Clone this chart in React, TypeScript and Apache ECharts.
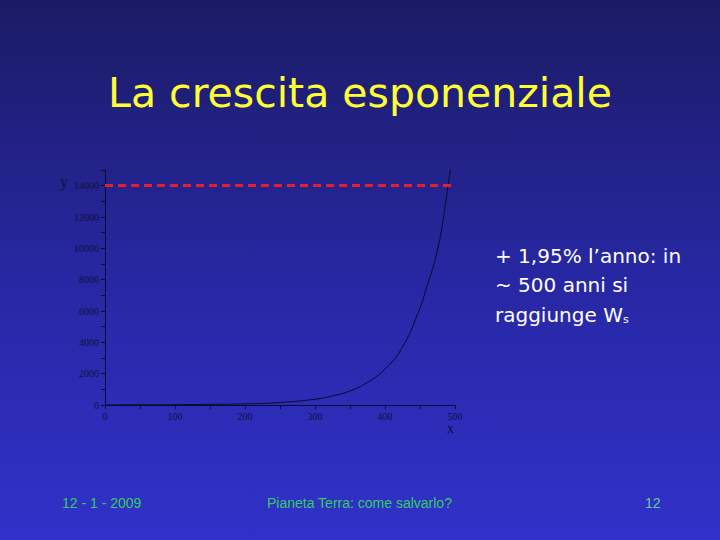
import React, { useEffect, useRef } from "react";
import * as echarts from "echarts";

const years = [0, 50, 100, 150, 200, 250, 300, 325, 350, 375, 400, 425, 450, 460, 470, 475, 480, 485, 490, 494];
const population = [5, 10, 20, 40, 70, 160, 370, 580, 900, 1450, 2300, 3700, 6200, 7600, 9000, 9900, 11000, 12400, 14000, 15200];
const limitValue = 14000;
const titleText = "La crescita esponenziale";
const noteLines = ["+ 1,95% l\u2019anno: in", "~ 500 anni si"];
const footerLeft = "12 - 1 - 2009";
const footerCenter = "Pianeta Terra: come salvarlo?";
const footerRight = "12";

export default function App() {
  const ref = useRef<HTMLDivElement>(null);
  useEffect(() => {
    if (!ref.current) return;
    const chart = echarts.init(ref.current, null, { renderer: "svg" });
    const serif = "Liberation Serif, DejaVu Serif, serif";
    const comic = "Comic Sans MS, DejaVu Sans, sans-serif";
    const narrow = "Liberation Sans Narrow, Liberation Sans, sans-serif";
    const axisColor = "#0c0c30";
    chart.setOption({
      animation: false,
      backgroundColor: {
        type: "linear",
        x: 0, y: 0, x2: 0, y2: 1,
        colorStops: [
          { offset: 0, color: "#1b1b64" },
          { offset: 0.5, color: "#2727a2" },
          { offset: 1, color: "#3131ca" },
        ],
      },
      grid: { left: 105, right: 265, top: 170, bottom: 135 },
      xAxis: {
        type: "value",
        min: 0,
        max: 500,
        interval: 100,
        axisLine: { show: true, lineStyle: { color: axisColor, width: 1 } },
        axisTick: { show: true, length: 4, lineStyle: { color: axisColor } },
        minorTick: { show: true, splitNumber: 2, length: 4, lineStyle: { color: axisColor } },
        splitLine: { show: false },
        axisLabel: { color: "#10103a", fontFamily: serif, fontSize: 10, margin: 6 },
      },
      yAxis: {
        type: "value",
        min: 0,
        max: 15000,
        interval: 2000,
        axisLine: { show: true, lineStyle: { color: axisColor, width: 1 } },
        axisTick: { show: true, length: 4, lineStyle: { color: axisColor } },
        minorTick: { show: true, splitNumber: 2, length: 4, lineStyle: { color: axisColor } },
        splitLine: { show: false },
        axisLabel: {
          color: "#10103a",
          fontFamily: serif,
          fontSize: 10,
          margin: 6,
          showMaxLabel: false,
          formatter: (v: number) => String(v),
        },
      },
      series: [
        {
          type: "line",
          data: years.map((x, i) => [x, population[i]]),
          showSymbol: false,
          smooth: true,
          lineStyle: { color: "#0a0a2e", width: 1 },
          markLine: {
            silent: true,
            symbol: "none",
            label: { show: false },
            lineStyle: { color: "#e3202c", width: 3, type: [8, 5] },
            data: [{ yAxis: limitValue }],
          },
        },
      ],
      graphic: [
        {
          type: "text",
          left: "center",
          top: 72,
          style: { text: titleText, fill: "#ffff33", font: `41px ${comic}` },
        },
        {
          type: "text",
          x: 60,
          y: 173,
          style: { text: "y", fill: "#10103a", font: `16px ${serif}` },
        },
        {
          type: "text",
          x: 447,
          y: 421,
          style: { text: "x", fill: "#10103a", font: `14px ${serif}` },
        },
        ...noteLines.map((t, i) => ({
          type: "text",
          x: 495,
          y: 246 + i * 29,
          style: { text: t, fill: "#ffffff", font: `20px ${comic}` },
        })),
        {
          type: "text",
          x: 495,
          y: 304,
          style: {
            text: "{a|raggiunge W}{s|s}",
            rich: {
              a: { fill: "#ffffff", fontSize: 20, fontFamily: comic },
              s: { fill: "#ffffff", fontSize: 11, fontFamily: comic, padding: [10, 0, 0, 0] },
            },
          },
        },
        {
          type: "text",
          x: 62,
          y: 496,
          style: { text: footerLeft, fill: "#33cc66", font: `14px ${narrow}` },
        },
        {
          type: "text",
          x: 267,
          y: 496,
          style: { text: footerCenter, fill: "#33cc66", font: `14px ${narrow}` },
        },
        {
          type: "text",
          x: 645,
          y: 496,
          style: { text: footerRight, fill: "#66cc99", font: `14px ${narrow}` },
        },
      ],
    });
    return () => chart.dispose();
  }, []);
  return (
    <div
      ref={ref}
      style={{ position: "fixed", left: 0, top: 0, width: 720, height: 540 }}
    />
  );
}
